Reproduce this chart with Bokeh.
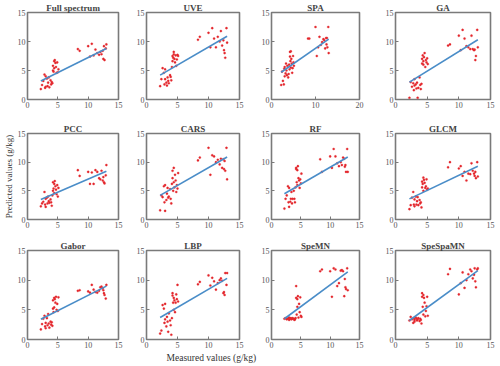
from bokeh.plotting import figure
from bokeh.layouts import gridplot
from bokeh.models import Range1d, FixedTicker, Title
from bokeh.embed import file_html
from bokeh.resources import INLINE

# ---------------- data ----------------
titles = ["Full spectrum", "UVE", "SPA", "GA",
          "PCC", "CARS", "RF", "GLCM",
          "Gabor", "LBP", "SpeMN", "SpeSpaMN"]

x_max = [15, 15, 20, 15, 15, 15, 15, 15, 15, 15, 15, 15]
x_ticks_15 = [0, 5, 10, 15]
x_ticks_20 = [0, 10, 20]
y_ticks = [0, 5, 10, 15]

measured = [2.2, 2.4, 2.6, 2.8, 2.9, 3.0, 3.0, 3.2, 3.3, 3.4, 3.5, 3.6, 3.8, 3.9,
            4.0, 4.1, 4.2, 4.2, 4.3, 4.4, 4.4, 4.5, 4.6, 4.7, 4.8, 4.9, 5.0, 5.1,
            8.3, 8.6,
            10.0, 10.3, 10.6, 10.9, 11.2, 11.5, 11.8, 12.0, 12.2, 12.4, 12.5, 12.6,
            12.7, 12.9, 13.0]

pred_full = [1.8, 2.5, 3.2, 4.3, 2.0, 4.0, 2.2, 3.6, 2.3, 2.9, 3.8, 2.1, 3.3, 2.6,
             3.0, 2.8, 5.0, 5.8, 4.8, 6.6, 5.4, 6.8, 6.3, 5.6, 4.6, 6.4, 4.7, 5.2,
             8.7, 8.4,
             9.2, 7.4, 9.6, 7.6, 8.6, 8.0, 7.7, 8.2, 7.8, 8.4, 7.0, 9.2, 6.8, 8.8, 9.5]
pred_uve = [2.3, 3.5, 5.4, 4.6, 2.6, 3.5, 5.2, 2.9, 2.4, 3.8, 3.2, 2.8, 4.2, 3.9,
            3.3, 5.6, 7.5, 6.6, 7.2, 8.2, 7.8, 7.0, 6.4, 7.6, 5.8, 6.9, 7.7, 7.5,
            10.3, 10.8,
            11.5, 9.0, 12.3, 10.5, 9.0, 10.8, 10.0, 11.8, 9.3, 10.2, 8.5, 8.0, 7.2, 12.3, 9.8]
pred_spa = [2.5, 4.8, 3.2, 2.6, 5.3, 4.0, 5.6, 4.5, 6.2, 5.0, 4.2, 5.8, 3.8, 4.4,
            6.0, 5.2, 7.4, 8.2, 6.6, 8.3, 5.5, 7.0, 6.2, 4.6, 5.4, 7.5, 6.4, 5.8,
            10.5, 10.5,
            12.5, 7.5, 9.0, 10.8, 9.4, 9.9, 10.4, 10.2, 8.8, 10.6, 9.5, 10.6, 9.0, 12.5, 8.0]
pred_ga = [0.3, 3.0, 2.2, 2.8, 1.6, 3.5, 2.4, 2.6, 1.9, 2.9, 0.3, 2.0, 3.8, 2.5,
           1.8, 2.7, 6.2, 7.0, 7.6, 6.6, 6.0, 7.3, 8.0, 5.6, 6.8, 6.4, 7.1, 6.1,
           9.3, 9.5,
           11.0, 8.5, 12.0, 10.5, 9.2, 9.0, 8.7, 11.0, 8.7, 8.5, 8.6, 6.8, 7.5, 12.0, 9.0]
pred_pcc = [2.3, 2.8, 3.1, 4.8, 2.6, 3.6, 2.2, 3.8, 2.8, 4.0, 3.2, 2.9, 3.5, 3.0,
            2.4, 4.2, 5.0, 6.5, 5.4, 6.2, 4.6, 6.7, 5.8, 5.2, 4.4, 6.0, 4.0, 5.5,
            8.6, 7.6,
            8.3, 6.2, 8.2, 6.2, 8.6, 8.3, 7.2, 7.0, 8.5, 6.8, 7.4, 6.5, 6.3, 7.7, 9.5]
pred_cars = [1.6, 4.2, 3.9, 5.8, 3.0, 1.5, 6.0, 3.4, 4.5, 5.5, 3.8, 4.0, 5.3, 3.6,
             2.8, 6.2, 7.2, 8.5, 5.0, 9.0, 6.5, 5.6, 7.8, 6.8, 4.8, 6.0, 5.4, 8.1,
             10.3, 10.8,
             12.5, 7.8, 11.2, 11.0, 10.0, 10.4, 9.6, 10.6, 9.0, 10.5, 8.8, 10.2, 8.5, 12.5, 7.0]
pred_rf = [1.9, 3.6, 4.2, 5.8, 3.0, 2.2, 5.5, 3.1, 3.6, 4.8, 2.8, 3.6, 5.0, 3.6,
           3.0, 5.6, 8.8, 9.0, 6.5, 8.6, 6.0, 9.3, 7.2, 6.8, 5.5, 7.0, 6.3, 8.0,
           10.5, 8.3,
           11.0, 9.0, 12.3, 11.0, 9.8, 9.3, 10.0, 9.5, 10.8, 10.6, 9.2, 9.5, 8.3, 12.3, 8.3]
pred_glcm = [1.8, 2.5, 3.8, 4.8, 2.6, 3.5, 2.3, 4.0, 2.6, 3.2, 3.9, 2.5, 3.4, 2.8,
             3.0, 2.1, 5.6, 6.6, 6.2, 7.3, 5.0, 6.9, 6.4, 5.5, 5.8, 7.0, 5.2, 5.4,
             9.1, 10.0,
             8.9, 9.3, 7.6, 8.3, 6.8, 8.0, 7.9, 9.8, 8.5, 8.0, 7.6, 8.3, 7.2, 10.0, 7.5]
pred_gabor = [1.7, 2.6, 3.5, 4.0, 2.2, 2.8, 1.9, 3.6, 2.4, 4.3, 2.7, 2.0, 3.0, 2.5,
              2.9, 2.3, 5.2, 6.6, 4.6, 7.0, 5.4, 6.8, 6.2, 7.2, 5.0, 6.0, 4.8, 7.1,
              8.2, 8.3,
              8.1, 7.9, 9.2, 8.4, 8.0, 7.9, 8.2, 8.8, 8.9, 8.6, 8.3, 7.8, 7.5, 6.9, 9.2]
pred_lbp = [1.0, 1.5, 5.8, 5.2, 2.8, 3.4, 6.0, 2.2, 3.8, 3.0, 1.3, 4.4, 3.2, 2.4,
            0.8, 3.6, 7.8, 7.4, 6.2, 7.0, 5.0, 6.6, 4.6, 6.2, 7.6, 6.8, 9.2, 6.4,
            9.3, 9.7,
            10.8, 9.1, 10.4, 9.8, 8.4, 9.5, 10.0, 10.3, 9.9, 7.8, 8.0, 7.5, 11.2, 9.2, 11.2]
pred_spemn = [3.5, 3.6, 3.4, 3.5, 3.6, 3.7, 3.3, 3.5, 3.6, 3.4, 3.5, 3.6, 3.5, 3.3,
              3.4, 3.6, 9.0, 7.0, 4.2, 6.8, 5.5, 7.3, 3.7, 6.0, 4.6, 7.1, 4.0, 3.8,
              11.5, 11.8,
              11.5, 7.2, 12.0, 11.8, 9.0, 9.5, 11.6, 11.7, 11.5, 7.3, 10.2, 8.8, 8.5, 12.0, 8.3]
pred_spespamn = [3.2, 3.8, 3.4, 2.8, 3.6, 3.3, 3.0, 3.7, 3.5, 3.2, 3.4, 3.6, 3.1, 3.5,
                 3.3, 2.7, 7.8, 7.2, 5.5, 7.5, 4.2, 7.0, 6.2, 3.9, 4.8, 5.6, 7.2, 4.0,
                 11.0, 11.9,
                 7.6, 9.5, 11.3, 8.7, 10.0, 11.0, 11.8, 11.5, 10.3, 10.9, 12.0, 9.8, 8.8, 11.8, 12.0]

# fitted line: predicted value at the two ends of the measured range
fit_x = [2.2, 13.0]
fit_lo = [3.2, 4.2, 4.7, 3.0, 3.5, 4.2, 4.5, 3.6, 3.4, 3.7, 3.5, 3.2]
fit_hi = [8.8, 10.9, 10.4, 10.3, 8.4, 10.9, 10.9, 9.3, 9.0, 10.3, 11.4, 11.6]

predicted = [pred_full, pred_uve, pred_spa, pred_ga, pred_pcc, pred_cars,
             pred_rf, pred_glcm, pred_gabor, pred_lbp, pred_spemn, pred_spespamn]

# ---------------- layout / style ----------------
FONT = "Liberation Serif"
GREY = "#7a7a7a"
col_w = [133, 125, 124, 118]
col_bl = [22, 13, 13, 13]
col_br = [15, 19, 23, 10]
row_h = [121, 117, 128]
row_bt = [12, 12, 12]
row_bb = [22, 19, 27]

rows = []
for r in range(3):
    row = []
    for c in range(4):
        i = r * 4 + c
        p = figure(width=col_w[c], height=row_h[r], output_backend="svg",
                   toolbar_location=None,
                   x_range=Range1d(0, x_max[i]), y_range=Range1d(0, 15),
                   min_border_left=col_bl[c], min_border_right=col_br[c],
                   min_border_top=row_bt[r], min_border_bottom=row_bb[r],
                   title=titles[i])
        p.title.text_font = FONT
        p.title.text_font_size = "9px"
        p.title.text_font_style = "bold"
        p.title.align = "center"
        p.title.standoff = 0
        p.title.offset = 0
        p.grid.visible = False
        p.outline_line_color = GREY
        p.outline_line_width = 1.6
        p.background_fill_color = "white"
        p.border_fill_color = "white"
        for ax in (p.xaxis[0], p.yaxis[0]):
            ax.axis_line_color = None
            ax.major_tick_in = 3
            ax.major_tick_out = 0
            ax.major_tick_line_color = GREY
            ax.minor_tick_line_color = None
            ax.major_label_text_font = FONT
            ax.major_label_text_font_size = "8px"
            ax.major_label_text_color = "#555555"
            ax.major_label_standoff = 2
        p.xaxis[0].ticker = FixedTicker(ticks=x_ticks_20 if x_max[i] == 20 else x_ticks_15)
        p.yaxis[0].ticker = FixedTicker(ticks=y_ticks)

        p.scatter(measured, predicted[i], size=2.2, marker="circle",
                  fill_color="#e3262b", line_color="#e3262b", line_width=0.3)
        p.line(fit_x, [fit_lo[i], fit_hi[i]], line_color="#4a8dc8", line_width=1.6)

        if r == 1 and c == 0:
            p.yaxis[0].axis_label = "Predicted values (g/kg)"
            p.yaxis[0].axis_label_text_font = FONT
            p.yaxis[0].axis_label_text_font_size = "9px"
            p.yaxis[0].axis_label_text_font_style = "normal"
            p.yaxis[0].axis_label_text_color = "#333333"
            p.yaxis[0].axis_label_standoff = 1
        if r == 2 and c == 1:
            p.add_layout(Title(text="Measured values (g/kg)", align="left", offset=20,
                               text_font=FONT, text_font_size="9.5px",
                               text_font_style="normal", text_color="#333333",
                               standoff=0), "below")
        row.append(p)
    rows.append(row)

grid = gridplot(rows, toolbar_location=None)
open("out.html", "w").write(file_html(grid, INLINE))
